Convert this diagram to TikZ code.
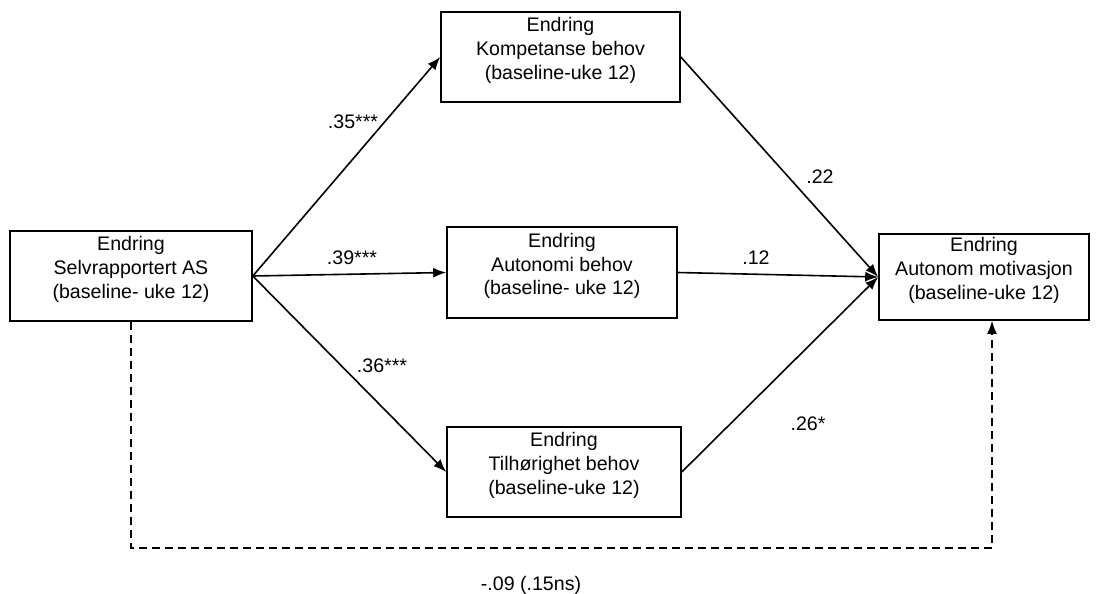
\documentclass[tikz,border=0pt]{standalone}
\usepackage{fontspec}
\setmainfont{Liberation Sans}
\usetikzlibrary{arrows.meta}

\tikzset{
	varbox/.style={draw, line width=1.6pt, align=center, inner sep=0pt,
		font=\fontsize{19.6}{23.8}\selectfont,
		execute at end node={\rule[-17pt]{0pt}{0pt}}},
	coef/.style={inner sep=0pt, font=\fontsize{19.6}{23}\selectfont},
}

\begin{document}
\begin{tikzpicture}[x=1pt, y=-1pt, >={Latex[length=13pt,width=10pt]}]
	\useasboundingbox (0,0) rectangle (1096,594);

	% variabler
	\node[varbox, minimum width=242pt, minimum height=90pt] (selv) at (131,276) {Endring\\Selvrapportert AS\\(baseline- uke 12)};
	\node[varbox, minimum width=239pt, minimum height=90pt] (komp) at (560.5,57) {Endring\\Kompetanse behov\\(baseline-uke 12)};
	\node[varbox, minimum width=230pt, minimum height=91pt] (auto) at (562,272.5) {Endring\\Autonomi behov\\(baseline- uke 12)};
	\node[varbox, minimum width=234pt, minimum height=90pt] (tilh) at (564,472) {Endring\\Tilhørighet behov\\(baseline-uke 12)};
	\node[varbox, minimum width=210pt, minimum height=86pt] (motiv) at (984,277) {Endring\\Autonom motivasjon\\(baseline-uke 12)};

	% stier
	\draw[->, line width=1.6pt] (selv.east) -- (komp.west);
	\draw[->, line width=1.6pt] (selv.east) -- (auto.west);
	\draw[->, line width=1.6pt] (selv.east) -- (tilh.west);
	\draw[->, line width=1.6pt] (komp.east) -- (motiv.west);
	\draw[->, line width=1.6pt] (auto.east) -- (motiv.west);
	\draw[->, line width=1.6pt] (tilh.east) -- (motiv.west);

	% direkte effekt
	\coordinate (hjorne) at (992,548);
	\draw[->, line width=1.6pt, dash pattern=on 8pt off 5pt] (selv.south) |- (hjorne) -- (hjorne |- motiv.south);

	% koeffisienter
	\node[coef] (k1) at (353,122) {.35***};
	\node[coef] (k2) at (352,258) {.39***};
	\node[coef] (k3) at (382,366) {.36***};
	\node[coef] (k4) at (820,177) {.22};
	\node[coef] (k5) at (756,258) {.12};
	\node[coef] (k6) at (808,424) {.26*};
	\node[coef] (k7) at (531,585) {-.09 (.15ns)};
\end{tikzpicture}
\end{document}
